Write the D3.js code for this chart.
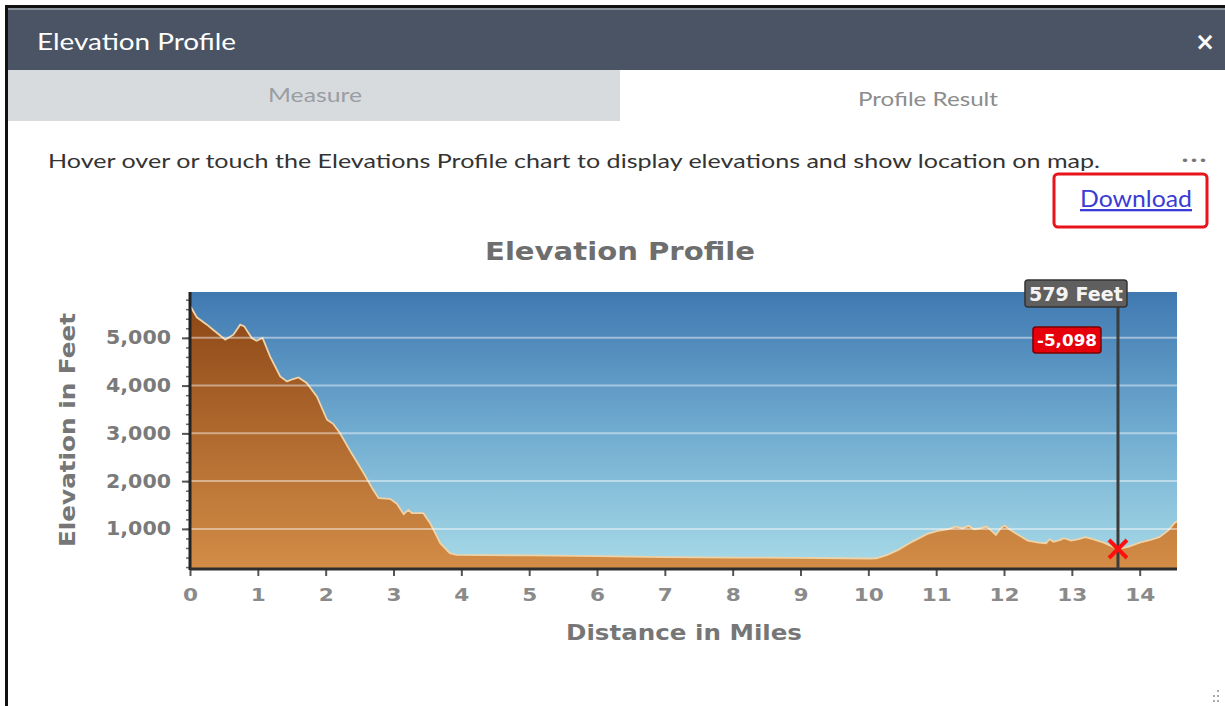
<!DOCTYPE html>
<html>
<head>
<meta charset="utf-8">
<script src="https://cdn.jsdelivr.net/npm/d3@7/dist/d3.min.js"></script>
<style>
  html, body { margin: 0; padding: 0; background: #fff; }
  svg { display: block; }
</style>
</head>
<body>
<div id="panel"></div>
<script>
// profile samples
var distanceMiles = [0, 0.10, 0.25, 0.34, 0.52, 0.64, 0.74, 0.80, 0.91, 0.98, 1.07, 1.18, 1.33, 1.43, 1.52, 1.60, 1.72, 1.87,
  2.02, 2.11, 2.21, 2.38, 2.56, 2.70, 2.78, 2.95, 3.05, 3.15, 3.22, 3.27, 3.44, 3.54, 3.69, 3.83, 3.93,
  5.00, 6.00, 7.00, 8.00, 9.00, 10.00, 10.12, 10.28, 10.44, 10.65, 10.87, 11.02, 11.18, 11.29, 11.39, 11.48,
  11.56, 11.66, 11.74, 11.80, 11.88, 11.95, 12.01, 12.09, 12.25, 12.35, 12.51, 12.62, 12.67, 12.73, 12.83,
  12.88, 12.99, 13.10, 13.20, 13.31, 13.47, 13.68, 13.84, 14.00, 14.16, 14.29, 14.43, 14.51, 14.55];
var elevationFeet = [5677, 5430, 5276, 5170, 4961, 5066, 5276, 5240, 4997, 4940, 4997, 4612, 4192, 4087, 4138, 4171, 4054, 3773,
  3285, 3200, 3006, 2587, 2167, 1817, 1643, 1629, 1524, 1308, 1398, 1329, 1329, 1119, 700, 491, 455,
  445, 430, 410, 400, 392, 380, 385, 455, 560, 734, 895, 958, 993, 1048, 1014, 1063,
  993, 1014, 1048, 979, 874, 1014, 1069, 979, 839, 755, 713, 700, 784, 728, 769,
  805, 755, 784, 826, 784, 713, 579, 630, 713, 769, 826, 979, 1118, 1160];

var xTickValues = d3.range(0, 15);
var yTickValues = [1000, 2000, 3000, 4000, 5000];
var yMinorValues = d3.range(200, 6000, 200);

var cursorMiles = 13.68;
var cursorFeet = 579;

var W = 1225, H = 706;
var margin = { top: 292, right: 48, bottom: 137, left: 190 };

var uiFont = "Lato, 'Open Sans', sans-serif";
var chartFont = "'DejaVu Sans', Verdana, sans-serif";

var svg = d3.select("#panel").append("svg")
    .attr("width", W)
    .attr("height", H);

var defs = svg.append("defs");

// the screenshot is stretched sideways a bit, so texts get a fixed width
function addText(parent, x, y, str, opt) {
    var t = parent.append("text")
        .attr("x", x).attr("y", y)
        .attr("text-anchor", opt.anchor || "start")
        .attr("font-family", opt.font || uiFont)
        .attr("font-size", opt.size)
        .attr("font-weight", opt.weight || "normal")
        .attr("fill", opt.color)
        .text(str);
    if (opt.width) t.attr("textLength", opt.width).attr("lengthAdjust", "spacingAndGlyphs");
    return t;
}

// ---- window chrome ----
svg.append("rect").attr("x", 5).attr("y", 5).attr("width", W - 5).attr("height", 3).attr("fill", "#111");
svg.append("rect").attr("x", 5).attr("y", 5).attr("width", 3).attr("height", H - 5).attr("fill", "#111");
svg.append("rect").attr("x", 8).attr("y", 8).attr("width", W - 8).attr("height", 62).attr("fill", "#4a5464");
svg.append("rect").attr("x", 8).attr("y", 8).attr("width", W - 8).attr("height", 2).attr("fill", "#8a929c");

addText(svg, 37, 50, "Elevation Profile", { size: 23, color: "#fff", width: 199 });
addText(svg, 1205, 50, "\u00d7", { size: 24, color: "#fff", weight: "bold", font: chartFont, anchor: "middle" });

// tabs
svg.append("rect").attr("x", 8).attr("y", 70).attr("width", 612).attr("height", 51).attr("fill", "#d8dbde");
addText(svg, 315, 102, "Measure", { size: 20, color: "#9a9ea3", anchor: "middle", width: 94 });
addText(svg, 928, 106, "Profile Result", { size: 20, color: "#8c8c8c", anchor: "middle", width: 140 });

addText(svg, 48, 168, "Hover over or touch the Elevations Profile chart to display elevations and show location on map.",
    { size: 20, color: "#333", width: 1052 });
addText(svg, 1194, 165, "\u2022\u2022\u2022", { size: 12, color: "#777", anchor: "middle", font: chartFont, width: 27 });

// download link and its highlight box
svg.append("rect")
    .attr("x", 1054).attr("y", 174).attr("width", 153).attr("height", 53)
    .attr("rx", 4)
    .attr("fill", "none")
    .attr("stroke", "#e8141c")
    .attr("stroke-width", 3);
addText(svg, 1192, 207, "Download", { size: 23, color: "#3b3bd6", anchor: "end", width: 112 })
    .attr("text-decoration", "underline");

// resize grip
[[1217, 690], [1213, 695], [1217, 695], [1217, 700], [1213, 700]].forEach(function (p) {
    svg.append("rect").attr("x", p[0]).attr("y", p[1]).attr("width", 2).attr("height", 2).attr("fill", "#aaa");
});

// ---- chart ----
var plotW = W - margin.left - margin.right;
var plotH = H - margin.top - margin.bottom;

var x = d3.scaleLinear().domain([0, 14.55]).range([margin.left, margin.left + plotW]);
var y = d3.scaleLinear().domain([160, 5960]).range([margin.top + plotH, margin.top]);

addText(svg, 620, 260, "Elevation Profile",
    { size: 25, color: "#6e6e6e", weight: "bold", font: chartFont, anchor: "middle", width: 270 });

var skyGrad = defs.append("linearGradient").attr("id", "sky")
    .attr("x1", 0).attr("y1", 0).attr("x2", 0).attr("y2", 1);
skyGrad.append("stop").attr("offset", "0%").attr("stop-color", "#4079b1");
skyGrad.append("stop").attr("offset", "50%").attr("stop-color", "#70abd0");
skyGrad.append("stop").attr("offset", "100%").attr("stop-color", "#a8dbe8");

var groundGrad = defs.append("linearGradient").attr("id", "ground")
    .attr("gradientUnits", "userSpaceOnUse")
    .attr("x1", 0).attr("y1", y.range()[1]).attr("x2", 0).attr("y2", y.range()[0]);
groundGrad.append("stop").attr("offset", "0%").attr("stop-color", "#8a4414");
groundGrad.append("stop").attr("offset", "100%").attr("stop-color", "#d38d47");

svg.append("rect")
    .attr("x", margin.left).attr("y", margin.top)
    .attr("width", plotW).attr("height", plotH)
    .attr("fill", "url(#sky)");

var profile = distanceMiles.map(function (d, i) { return [d, elevationFeet[i]]; });

var area = d3.area()
    .x(function (d) { return x(d[0]); })
    .y0(y.range()[0])
    .y1(function (d) { return y(d[1]); });
var line = d3.line()
    .x(function (d) { return x(d[0]); })
    .y(function (d) { return y(d[1]); });

svg.append("path").datum(profile)
    .attr("d", area)
    .attr("fill", "url(#ground)");
svg.append("path").datum(profile)
    .attr("d", line)
    .attr("fill", "none")
    .attr("stroke", "#efd3a8")
    .attr("stroke-width", 1.8);

// grid lines sit on top of the ground
svg.append("g").selectAll("line").data(yTickValues).enter().append("line")
    .attr("x1", margin.left).attr("x2", margin.left + plotW)
    .attr("y1", function (d) { return y(d); })
    .attr("y2", function (d) { return y(d); })
    .attr("stroke", "rgba(255,255,255,0.45)")
    .attr("stroke-width", 2);

// y axis
var yMinor = svg.append("g")
    .attr("transform", "translate(" + margin.left + ",0)")
    .call(d3.axisLeft(y).tickValues(yMinorValues).tickSize(4).tickFormat(""));
yMinor.select(".domain").remove();
yMinor.selectAll("line").attr("stroke", "#666").attr("stroke-width", 1.5);

var yAxis = svg.append("g")
    .attr("transform", "translate(" + margin.left + ",0)")
    .call(d3.axisLeft(y).tickValues(yTickValues).tickSize(8).tickPadding(11).tickFormat(d3.format(",")));
yAxis.select(".domain").remove();
yAxis.selectAll("line").attr("stroke", "#555").attr("stroke-width", 2);
yAxis.selectAll("text")
    .attr("font-family", chartFont)
    .attr("font-weight", "bold")
    .attr("font-size", 19)
    .attr("fill", "#7a7a7a")
    .attr("textLength", 65)
    .attr("lengthAdjust", "spacingAndGlyphs");

// x axis
var xAxis = svg.append("g")
    .attr("transform", "translate(0," + y.range()[0] + ")")
    .call(d3.axisBottom(x).tickValues(xTickValues).tickSize(7).tickPadding(12).tickFormat(d3.format("d")));
xAxis.select(".domain").remove();
xAxis.selectAll("line").attr("stroke", "#555").attr("stroke-width", 2);
xAxis.selectAll("text")
    .attr("font-family", chartFont)
    .attr("font-weight", "bold")
    .attr("font-size", 18)
    .attr("fill", "#8a8a8a")
    .attr("transform", "scale(1.2,1)");

svg.append("line")
    .attr("x1", margin.left).attr("x2", margin.left)
    .attr("y1", margin.top).attr("y2", y.range()[0] + 1)
    .attr("stroke", "#222").attr("stroke-width", 3);
svg.append("line")
    .attr("x1", margin.left).attr("x2", margin.left + plotW)
    .attr("y1", y.range()[0]).attr("y2", y.range()[0])
    .attr("stroke", "#2e2e2e").attr("stroke-width", 3);

addText(svg, 684, 640, "Distance in Miles",
    { size: 21, color: "#767676", weight: "bold", font: chartFont, anchor: "middle", width: 236 });
addText(svg, 0, 0, "Elevation in Feet",
    { size: 21, color: "#767676", weight: "bold", font: chartFont, anchor: "middle", width: 234 })
    .attr("transform", "translate(75,430) rotate(-90)");

// ---- hover cursor ----
var cx = x(cursorMiles), cy = y(cursorFeet);
var gain = d3.format(",")(cursorFeet - elevationFeet[0]).replace("\u2212", "-");

svg.append("line")
    .attr("x1", cx).attr("x2", cx)
    .attr("y1", 306).attr("y2", y.range()[0])
    .attr("stroke", "#3c3c3c").attr("stroke-width", 3);

svg.append("rect")
    .attr("x", cx - 93).attr("y", 280).attr("width", 102).attr("height", 27)
    .attr("rx", 3)
    .attr("fill", "#5f5f5f")
    .attr("stroke", "#333").attr("stroke-width", 1.5);
addText(svg, cx - 42, 301, d3.format(",")(cursorFeet) + " Feet",
    { size: 19, color: "#f4f4f4", weight: "bold", font: chartFont, anchor: "middle", width: 94 });

svg.append("rect")
    .attr("x", cx - 85).attr("y", 327).attr("width", 68).attr("height", 26)
    .attr("rx", 3)
    .attr("fill", "#e6000c")
    .attr("stroke", "#7a0000").attr("stroke-width", 1.5);
addText(svg, cx - 51, 346, gain,
    { size: 16, color: "#fff", weight: "bold", font: chartFont, anchor: "middle", width: 60 });

svg.append("path")
    .attr("d", "M" + (cx - 9) + "," + (cy - 9) + "L" + (cx + 9) + "," + (cy + 9) +
               "M" + (cx - 9) + "," + (cy + 9) + "L" + (cx + 9) + "," + (cy - 9))
    .attr("stroke", "#ff1010").attr("stroke-width", 4).attr("fill", "none");
</script>
</body>
</html>
